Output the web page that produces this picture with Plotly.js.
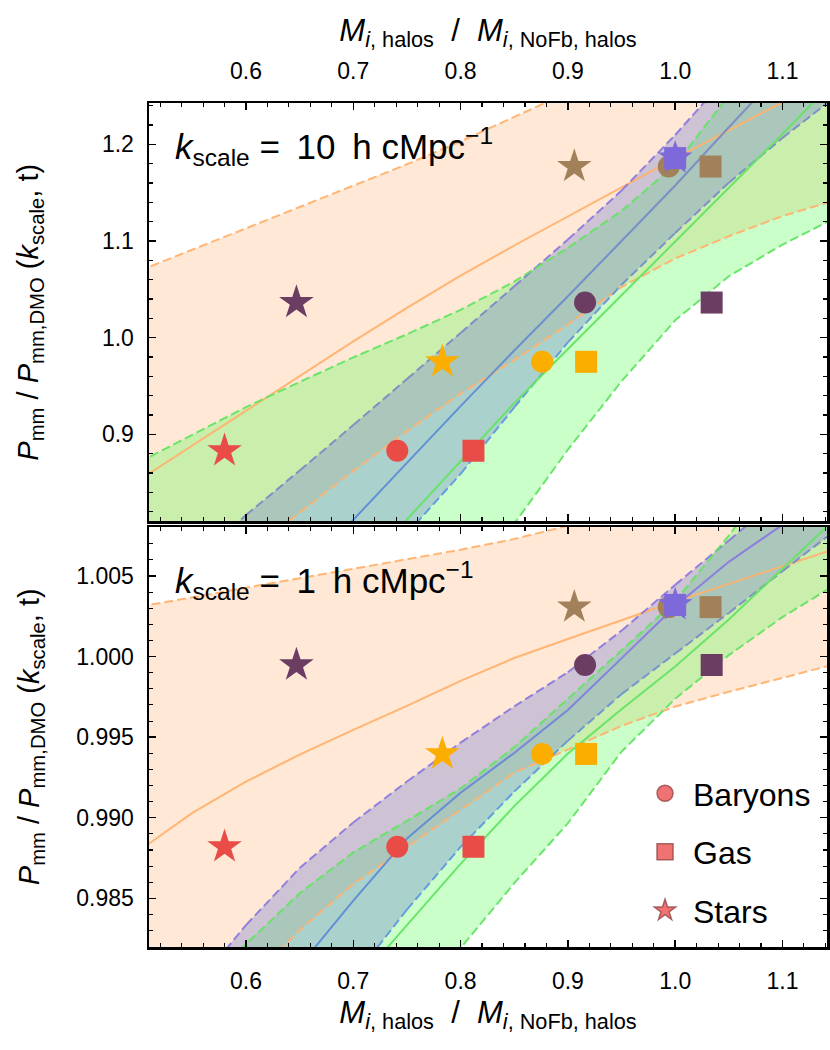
<!DOCTYPE html>
<html><head><meta charset="utf-8">
<script src="https://cdn.plot.ly/plotly-3.0.1.min.js"></script>
<style>html,body{margin:0;padding:0;background:#fff}#chart{width:830px;height:1050px}</style>
</head><body><div id="chart"></div>
<script>
// ---------- data ----------
const massRatioGrid = [0.50,0.55,0.60,0.65,0.70,0.75,0.80,0.85,0.90,0.95,1.00,1.05,1.10,1.15];

// k_scale = 10 h/cMpc (top panel): fit bands
const k10StarsLow    = [0.6830,0.7286,0.7741,0.8192,0.8622,0.9033,0.9422,0.9768,1.0136,1.0523,1.0819,1.1049,1.1258,1.1423];
const k10StarsFit    = [0.8525,0.8883,0.9241,0.9601,0.9962,1.0308,1.0641,1.0953,1.1253,1.1554,1.1853,1.2144,1.2437,1.2727];
const k10StarsHigh   = [1.0689,1.0910,1.1131,1.1351,1.1571,1.1793,1.2030,1.2285,1.2541,1.2789,1.3027,1.3265,1.3492,1.3720];
const k10GasLow      = [0.2714,0.3479,0.4245,0.5010,0.5775,0.6541,0.7308,0.8074,0.8841,0.9549,1.0179,1.0635,1.0962,1.1242];
const k10GasFit      = [0.5113,0.5713,0.6313,0.6913,0.7513,0.8113,0.8714,0.9323,0.9882,1.0437,1.0991,1.1548,1.2106,1.2675];
const k10GasHigh     = [0.8708,0.8997,0.9282,0.9541,0.9796,1.0035,1.0288,1.0579,1.0929,1.1311,1.1788,1.2506,1.3234,1.3958];
const k10BaryonsLow  = [0.4637,0.5310,0.5972,0.6644,0.7306,0.7972,0.8591,0.9278,0.9951,1.0547,1.1082,1.1603,1.2065,1.2499];
const k10BaryonsFit  = [0.5765,0.6355,0.6940,0.7529,0.8116,0.8705,0.9291,0.9867,1.0428,1.1000,1.1574,1.2176,1.2768,1.3368];
const k10BaryonsHigh = [0.7182,0.7679,0.8165,0.8625,0.9096,0.9572,1.0049,1.0531,1.1015,1.1521,1.2096,1.2722,1.3337,1.3958];

// k_scale = 1 h/cMpc (bottom panel): fit bands
const k1StarsLow    = [0.97217,0.97589,0.97962,0.98303,0.98589,0.98818,0.99048,0.99280,0.99423,0.99570,0.99690,0.99782,0.99868,0.99955];
const k1StarsFit    = [0.98794,0.99030,0.99224,0.99392,0.99545,0.99694,0.99849,0.99991,1.00109,1.00226,1.00342,1.00451,1.00561,1.00671];
const k1StarsHigh   = [1.00309,1.00368,1.00427,1.00486,1.00545,1.00603,1.00663,1.00730,1.00812,1.00892,1.00973,1.01054,1.01134,1.01221];
const k1GasLow      = [0.95590,0.96025,0.96459,0.96894,0.97322,0.97757,0.98191,0.98594,0.98966,0.99410,0.99738,1.00009,1.00245,1.00449];
const k1GasFit      = [0.96416,0.96801,0.97186,0.97571,0.97949,0.98334,0.98714,0.99072,0.99398,0.99673,0.99939,1.00230,1.00545,1.00861];
const k1GasHigh     = [0.97546,0.97881,0.98216,0.98531,0.98785,0.98981,0.99182,0.99438,0.99737,1.00038,1.00344,1.00751,1.01190,1.01625];
const k1BaryonsLow  = [0.96298,0.96726,0.97155,0.97577,0.98005,0.98430,0.98819,0.99162,0.99478,0.99767,1.00019,1.00271,1.00530,1.00787];
const k1BaryonsFit  = [0.96850,0.97260,0.97670,0.98080,0.98486,0.98871,0.99155,0.99402,0.99669,0.99989,1.00312,1.00588,1.00818,1.01035];
const k1BaryonsHigh = [0.97511,0.97931,0.98334,0.98688,0.98971,0.99225,0.99466,0.99691,0.99903,1.00161,1.00445,1.00721,1.00998,1.01271];

// simulations (one colour each)
const simColors        = ['#E94B47','#FBAE00','#6B3D62','#A2815A','#7D69D9'];
const baryonMassRatio  = [0.741, 0.876, 0.916, 0.994, 1.000];
const gasMassRatio     = [0.812, 0.917, 1.034, 1.033, 1.000];
const starMassRatio    = [0.580, 0.783, 0.647, 0.906, 1.000];
const k10PowerRatio    = [0.8830, 0.9750, 1.0363, 1.1770, 1.1857];
const k1PowerRatio     = [0.98820, 0.99396, 0.99948, 1.00307, 1.00321];

const legendNames = ['Baryons','Gas','Stars'];
const legendSymbols = ['circle','square','star'];

// ---------- styling ----------
const FONT = 'Liberation Sans, Arial, sans-serif';
const ORANGE_LINE = 'rgba(255,178,110,0.95)';
const ORANGE_FILL = 'rgba(255,140,50,0.2)';
const GREEN_LINE = 'rgba(100,228,100,0.95)';
const GREEN_FILL = 'rgba(60,255,60,0.27)';
const BARYON_FILL = 'rgba(116,122,212,0.35)';
const C_BLUE = [90,138,214], C_GRAYBLUE = [122,138,196], C_PURPLE = [138,120,224], C_LBLUE = [96,150,222];
const DASH = '9px,4px';

function mix(c0, c1, t, a) {
  const c = c0.map((v,i)=>Math.round(v + (c1[i]-v)*t));
  return 'rgba(' + c.join(',') + ',' + a + ')';
}

const traces = [];
function fillBand(lo, hi, xa, ya, color) {
  traces.push({x: massRatioGrid, y: lo, xaxis: xa, yaxis: ya, mode:'lines',
    line:{width:0}, showlegend:false, hoverinfo:'skip'});
  traces.push({x: massRatioGrid, y: hi, xaxis: xa, yaxis: ya, mode:'lines',
    line:{width:0}, fill:'tonexty', fillcolor: color, showlegend:false, hoverinfo:'skip'});
}
function plainLine(ys, xa, ya, color, dash) {
  traces.push({x: massRatioGrid, y: ys, xaxis: xa, yaxis: ya, mode:'lines',
    line:{color: color, width: 2, dash: dash}, showlegend:false, hoverinfo:'skip'});
}
function gradientLine(ys, xa, ya, g, dash) {
  for (let i = 0; i < massRatioGrid.length - 1; i++) {
    const t = Math.max(0, Math.min(1, ((ys[i]+ys[i+1])/2 - g.lo)/(g.hi - g.lo)));
    traces.push({x: [massRatioGrid[i], massRatioGrid[i+1]], y: [ys[i], ys[i+1]],
      xaxis: xa, yaxis: ya, mode:'lines',
      line:{color: mix(g.c0, g.c1, t, 0.92), width: 2, dash: dash},
      showlegend:false, hoverinfo:'skip'});
  }
}

function panel(xa, ya, S, G, B, grads, pRatio) {
  fillBand(S[0], S[2], xa, ya, ORANGE_FILL);
  fillBand(G[0], G[2], xa, ya, GREEN_FILL);
  fillBand(B[0], B[2], xa, ya, BARYON_FILL);
  plainLine(S[0], xa, ya, ORANGE_LINE, DASH);
  plainLine(S[2], xa, ya, ORANGE_LINE, DASH);
  plainLine(S[1], xa, ya, ORANGE_LINE, 'solid');
  gradientLine(B[0], xa, ya, grads.low, DASH);
  gradientLine(B[2], xa, ya, grads.high, DASH);
  gradientLine(B[1], xa, ya, grads.fit, 'solid');
  plainLine(G[0], xa, ya, GREEN_LINE, DASH);
  plainLine(G[2], xa, ya, GREEN_LINE, DASH);
  plainLine(G[1], xa, ya, GREEN_LINE, 'solid');
  const ms = [[baryonMassRatio,'circle',22],[gasMassRatio,'square',22],[starMassRatio,'star',26]];
  ms.forEach(m => traces.push({x: m[0], y: pRatio, xaxis: xa, yaxis: ya, mode:'markers',
    marker:{symbol: m[1], size: m[2], color: simColors, line:{width:0}},
    showlegend:false, hoverinfo:'skip'}));
}

panel('x','y',[k10StarsLow,k10StarsFit,k10StarsHigh],[k10GasLow,k10GasFit,k10GasHigh],
      [k10BaryonsLow,k10BaryonsFit,k10BaryonsHigh],
      {low:{lo:0.95,hi:1.15,c0:C_LBLUE,c1:C_GRAYBLUE}, fit:{lo:0.92,hi:1.15,c0:C_BLUE,c1:C_GRAYBLUE},
       high:{lo:1.0,hi:1.12,c0:C_GRAYBLUE,c1:C_PURPLE}}, k10PowerRatio);
panel('x2','y2',[k1StarsLow,k1StarsFit,k1StarsHigh],[k1GasLow,k1GasFit,k1GasHigh],
      [k1BaryonsLow,k1BaryonsFit,k1BaryonsHigh],
      {low:{lo:0.992,hi:1.002,c0:C_LBLUE,c1:C_GRAYBLUE}, fit:{lo:0.991,hi:1.002,c0:C_BLUE,c1:C_PURPLE},
       high:{lo:0.9,hi:0.95,c0:C_PURPLE,c1:C_PURPLE}}, k1PowerRatio);

legendNames.forEach((n,i) => traces.push({x:[null], y:[null], xaxis:'x2', yaxis:'y2',
  mode:'markers', name: n, legendgroup: n,
  marker:{symbol: legendSymbols[i], size: 18, color:'rgba(238,100,100,0.9)',
    line:{color:'rgba(150,70,70,0.8)', width:1.5}}}));

const XRANGE = [0.5096, 1.1415];
const axisBase = {
  showline:true, linecolor:'#000', linewidth:2.5, mirror:'allticks',
  ticks:'inside', ticklen:7, tickwidth:1.4, tickcolor:'#000',
  showgrid:false, zeroline:false, fixedrange:true,
  tickfont:{family:FONT, size:23, color:'#000'}
};
const xTitle = '<i>M</i><sub><i>i</i>, halos</sub>&nbsp; /&nbsp; <i>M</i><sub><i>i</i>, NoFb, halos</sub>';
const yTitle = '<i>P</i><sub>mm</sub> / <i>P</i><sub>mm,DMO</sub> (<i>k</i><sub>scale</sub>, t)';
const kLabel = k => '<i>k</i><sub>scale</sub> =\u2009 ' + k + '\u2009 h cMpc<sup>−1</sup>';

const layout = {
  width: 830, height: 1050,
  margin: {l:149, r:3, t:103, b:103},
  paper_bgcolor:'#fff', plot_bgcolor:'#fff',
  font:{family:FONT, color:'#000'},
  showlegend: true,
  legend:{x:0.7198, y:0.2145, xanchor:'left', yanchor:'top', bgcolor:'rgba(0,0,0,0)',
    font:{family:FONT, size:32, color:'#000'}, tracegroupgap: 14, itemwidth: 46},
  xaxis: Object.assign({}, axisBase, {anchor:'y', side:'top', range: XRANGE, dtick:0.1, tick0:0,
    tickformat:'.1f', ticklabelstandoff: 12,
    minor:{dtick:0.02, ticks:'inside', ticklen:4, tickwidth:1.1, tickcolor:'#000'},
    title:{text: xTitle, font:{family:FONT, size:31}, standoff: 8}}),
  yaxis: Object.assign({}, axisBase, {anchor:'x', domain:[0.5047,1], range:[0.8103,1.2427], dtick:0.1, tick0:0,
    tickformat:'.1f', ticklabelstandoff: 8,
    minor:{dtick:0.02, ticks:'inside', ticklen:4, tickwidth:1.1, tickcolor:'#000'}}),
  xaxis2: Object.assign({}, axisBase, {anchor:'y2', side:'bottom', range: XRANGE, dtick:0.1, tick0:0,
    tickformat:'.1f', ticklabelstandoff: 12,
    minor:{dtick:0.02, ticks:'inside', ticklen:4, tickwidth:1.1, tickcolor:'#000'},
    title:{text: xTitle, font:{family:FONT, size:31}, standoff: 8}}),
  yaxis2: Object.assign({}, axisBase, {anchor:'x2', domain:[0,0.4976], range:[0.98198,1.00804], dtick:0.005, tick0:0,
    tickformat:'.3f', ticklabelstandoff: 8,
    minor:{dtick:0.001, ticks:'inside', ticklen:4, tickwidth:1.1, tickcolor:'#000'}}),
  annotations: [
    {xref:'paper', yref:'paper', x:0.036, y:0.948, xanchor:'left', yanchor:'middle', showarrow:false,
     text: kLabel('10'), font:{family:FONT, size:35, color:'#000'}},
    {xref:'paper', yref:'paper', x:0.036, y:0.4348, xanchor:'left', yanchor:'middle', showarrow:false,
     text: kLabel('1'), font:{family:FONT, size:35, color:'#000'}},
    {xref:'paper', yref:'paper', x:-0.175, y:0.752, xanchor:'center', yanchor:'middle', textangle:-90, showarrow:false,
     text: yTitle, font:{family:FONT, size:29, color:'#000'}},
    {xref:'paper', yref:'paper', x:-0.175, y:0.249, xanchor:'center', yanchor:'middle', textangle:-90, showarrow:false,
     text: yTitle, font:{family:FONT, size:29, color:'#000'}}
  ]
};

Plotly.newPlot('chart', traces, layout, {staticPlot:true, displayModeBar:false});
</script></body></html>
